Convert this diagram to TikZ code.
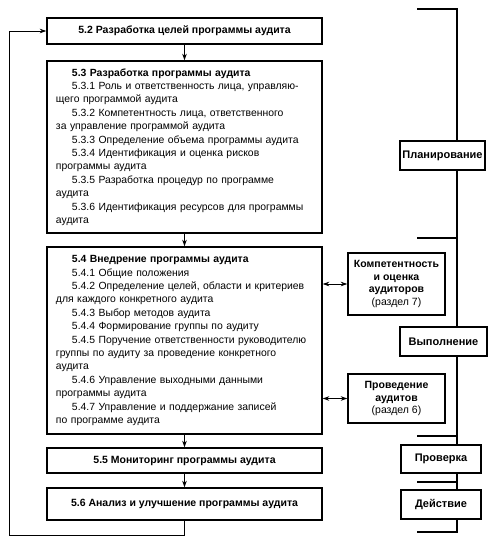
\documentclass[tikz,border=0pt]{standalone}
\usepackage{fontspec}
\setmainfont{Liberation Sans}
\usetikzlibrary{arrows.meta}
\newcommand{\pind}{\hspace*{16pt}}

\begin{document}
\begin{tikzpicture}[x=1pt,y=-1pt,
  stage/.style={draw=black, line width=1.4pt, inner sep=0pt, minimum width=275pt, font=\bfseries\fontsize{10.5}{12}\selectfont},
  listbox/.style={draw=black, line width=1.4pt, inner xsep=9pt, inner ysep=0pt, text width=257pt, align=left, font=\fontsize{10.4}{13.4}\selectfont},
  side/.style={draw=black, line width=1.4pt, inner sep=0pt, minimum width=97pt, align=center, font=\fontsize{10.5}{12.4}\selectfont},
  phase/.style={draw=black, line width=1.4pt, inner sep=0pt, minimum height=29pt, font=\bfseries\fontsize{11}{12}\selectfont},
  flow/.style={line width=0.9pt, -{Stealth[length=6.5pt,width=4.5pt]}},
  link/.style={line width=0.9pt, {Stealth[length=6.5pt,width=4.5pt]}-{Stealth[length=6.5pt,width=4.5pt]}},
  brace/.style={line width=1.2pt}]
\useasboundingbox (0,0) rectangle (491,542);

% main column
\node[stage, minimum height=26pt] (s52) at (184.5,31) {5.2 Разработка целей программы аудита};
\node[listbox, minimum height=172pt] (s53) at (184.5,147) {%
\pind\textbf{5.3 Разработка программы аудита}\\
\pind 5.3.1 Роль и ответственность лица, управляю-\\
щего программой аудита\\
\pind 5.3.2 Компетентность лица, ответственного\\
за управление программой аудита\\
\pind 5.3.3 Определение объема программы аудита\\
\pind 5.3.4 Идентификация и оценка рисков\\
программы аудита\\
\pind 5.3.5 Разработка процедур по программе\\
аудита\\
\pind 5.3.6 Идентификация ресурсов для программы\\
аудита};
\node[listbox, minimum height=187pt] (s54) at (184.5,340.5) {%
\pind\textbf{5.4 Внедрение программы аудита}\\
\pind 5.4.1 Общие положения\\
\pind 5.4.2 Определение целей, области и критериев\\
для каждого конкретного аудита\\
\pind 5.4.3 Выбор методов аудита\\
\pind 5.4.4 Формирование группы по аудиту\\
\pind 5.4.5 Поручение ответственности руководителю\\
группы по аудиту за проведение конкретного\\
аудита\\
\pind 5.4.6 Управление выходными данными\\
программы аудита\\
\pind 5.4.7 Управление и поддержание записей\\
по программе аудита};
\node[stage, minimum height=25pt] (s55) at (184.5,460.5) {5.5 Мониторинг программы аудита};
\node[stage, minimum height=32pt] (s56) at (184.5,504) {5.6 Анализ и улучшение программы аудита};

% side boxes
\node[side, minimum height=62pt] (comp) at (396.5,284) {\textbf{Компетентность}\\\textbf{и оценка}\\\textbf{аудиторов}\\(раздел 7)};
\node[side, minimum height=49pt] (cond) at (396.5,398.5) {\textbf{Проведение}\\\textbf{аудитов}\\(раздел 6)};

% phases
\node[phase, minimum width=85pt] (plan) at (442.5,155.5) {Планирование};
\node[phase, minimum width=87pt] (exec) at (443.5,341.5) {Выполнение};
\node[phase, minimum width=80pt, minimum height=28pt] (check) at (441,459) {Проверка};
\node[phase, minimum width=80pt] (act) at (441,504.5) {Действие};

\draw[flow] (s52) -- (s53);
\draw[flow] (s53) -- (s54);
\draw[flow] (s54) -- (s55);
\draw[flow] (s55) -- (s56);
\coordinate (lp) at (9,535);
\draw[flow] (s56.south) -- (s56.south |- lp) -- (lp) -- (lp |- s52.west) -- (s52.west);
\draw[link] (s54.east |- comp) -- (comp.west);
\draw[link] (s54.east |- cond) -- (cond.west);

% brackets
\coordinate (spine) at (457,0);
\coordinate (t0) at (417,9);
\coordinate (t1) at (417,238);
\coordinate (t2) at (417,436);
\coordinate (t3) at (417,482);
\coordinate (t4) at (417,532);
\draw[brace] (t0) -- (t0 -| spine) -- (plan.north -| spine);
\draw[brace] (plan.south -| spine) -- (t1 -| spine) -- (t1);
\draw[brace] (t1 -| spine) -- (exec.north -| spine);
\draw[brace] (exec.south -| spine) -- (t2 -| spine) -- (t2);
\draw[brace] (t2 -| spine) -- (check.north -| spine);
\draw[brace] (check.south -| spine) -- (t3 -| spine) -- (t3);
\draw[brace] (t3 -| spine) -- (act.north -| spine);
\draw[brace] (act.south -| spine) -- (t4 -| spine) -- (t4);
\end{tikzpicture}
\end{document}
